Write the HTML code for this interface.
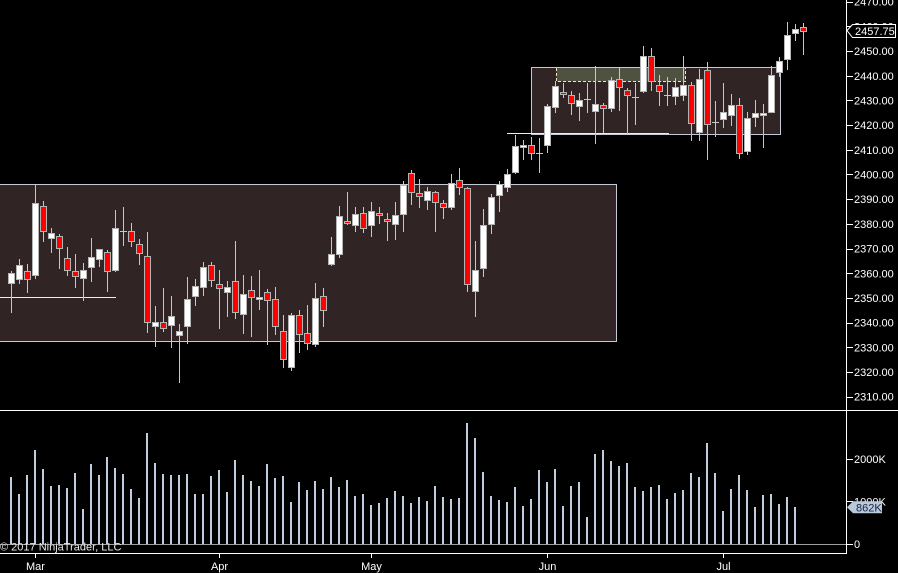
<!DOCTYPE html>
<html><head><meta charset="utf-8"><style>
html,body{margin:0;padding:0;background:#000;}
svg{display:block;}
text{font-family:"Liberation Sans",Arial,sans-serif;font-size:11px;fill:#fff;}
</style></head><body>
<svg id="c" width="898" height="573" viewBox="0 0 898 573" xmlns="http://www.w3.org/2000/svg" shape-rendering="crispEdges">
<rect x="0" y="0" width="898" height="573" fill="#000"/>
<!-- boxes -->
<rect x="-2" y="184.5" width="618.5" height="157" fill="#312424" stroke="#c3cad6" stroke-width="1"/>
<rect x="531.5" y="67.5" width="249" height="67" fill="#312424" stroke="#c3cad6" stroke-width="1"/>
<rect x="556.5" y="68" width="129" height="13.5" fill="#4f5241"/>
<path d="M556.5 68V81.5H685.5V68" fill="none" stroke="#f0e6c0" stroke-width="1" stroke-dasharray="3,2"/>
<line x1="0" y1="297.5" x2="116" y2="297.5" stroke="#f3eedc" stroke-width="1"/>
<line x1="507" y1="133.5" x2="669" y2="133.5" stroke="#f3eedc" stroke-width="1"/>
<g id="candles"></g>
<g id="vol"></g>
<!-- axes -->
<line x1="846.5" y1="0" x2="846.5" y2="553" stroke="#fff" stroke-width="1"/>
<line x1="0" y1="410.5" x2="898" y2="410.5" stroke="#fff" stroke-width="1"/>
<line x1="0" y1="553.5" x2="847" y2="553.5" stroke="#fff" stroke-width="1"/>
<line x1="0" y1="544.5" x2="846" y2="544.5" stroke="#a0a0a0" stroke-width="1"/>
<g id="ticks" stroke="#fff" stroke-width="1"></g>
<!-- price labels -->
<g>
<text x="854" y="5.7">2470.00</text>
<text x="854" y="30.4">2460.00</text>
<text x="854" y="55.1">2450.00</text>
<text x="854" y="79.8">2440.00</text>
<text x="854" y="104.5">2430.00</text>
<text x="854" y="129.2">2420.00</text>
<text x="854" y="153.9">2410.00</text>
<text x="854" y="178.5">2400.00</text>
<text x="854" y="203.2">2390.00</text>
<text x="854" y="227.9">2380.00</text>
<text x="854" y="252.6">2370.00</text>
<text x="854" y="277.3">2360.00</text>
<text x="854" y="302.0">2350.00</text>
<text x="854" y="326.7">2340.00</text>
<text x="854" y="351.3">2330.00</text>
<text x="854" y="376.0">2320.00</text>
<text x="854" y="400.7">2310.00</text>
<text x="854" y="463">2000K</text>
<text x="854" y="505.5">1000K</text>
<text x="854" y="548">0</text>
</g>
<!-- last price tag -->
<polygon points="847,30.5 852.5,24.5 895.5,24.5 895.5,37.5 852.5,37.5" fill="#000" stroke="#fff" stroke-width="1" shape-rendering="auto"/>
<text x="855" y="35">2457.75</text>
<polygon points="847,507.3 853,501.3 882,501.3 882,513.3 853,513.3" fill="#b9c9dc" shape-rendering="auto"/>
<text x="856" y="511.5" style="fill:#1a2040">862K</text>
<!-- x labels -->
<text x="35.5" y="570" text-anchor="middle">Mar</text>
<text x="219.5" y="570" text-anchor="middle">Apr</text>
<text x="371.5" y="570" text-anchor="middle">May</text>
<text x="547.5" y="570" text-anchor="middle">Jun</text>
<text x="723.5" y="570" text-anchor="middle">Jul</text>
<text x="0" y="550.5" style="fill:#e8e8e8">© 2017 NinjaTrader, LLC</text>
</svg>
<script>
(function(){
var NS="http://www.w3.org/2000/svg";
var C=[
[273.3,282.7,271,312.7,"W"],[265.3,279.3,259,283.7,"W"],[271.3,279.3,264,292.7,"R"],[203.3,275.3,184.7,278.7,"W"],
[206.3,231.3,201,241.7,"R"],[233.3,237.7,228,252.7,"W"],[236.3,247.7,234,268.7,"R"],[258.3,270.3,247,276,"R"],
[271.3,276.3,254,287.7,"R"],[270.3,278.3,263,300.7,"W"],[257.3,267.3,238,281.7,"W"],[249.3,259.3,249.3,266.7,"W"],
[252.3,271.3,250,291.7,"R"],[228.3,270.3,210,272,"W"],[231.3,231.3,207,245.7,"D"],[231.3,241.3,223,247.3,"R"],
[244.3,253.3,239,265.3,"R"],[256.3,322.3,232,333.3,"R"],[322.3,326.3,306,347.3,"W"],[322.3,328.3,288,332.3,"R"],
[316.3,325.3,296,348.3,"W"],[331.3,335.3,323.7,383.3,"W"],[299.3,326.3,277,344.3,"W"],[286.3,296.3,279,306.3,"W"],
[267.3,286.7,262,296,"W"],[265.3,280.3,262,287,"R"],[284.3,288.3,270,328.7,"R"],[287.3,292.3,281,316.7,"W"],
[281.3,312.3,241,318.7,"R"],[294.3,314.3,275,333.7,"W"],[290.3,297.3,276,336.7,"R"],[297.3,299.3,270,309.7,"W"],
[292.3,300.3,289,344.7,"R"],[299.3,326.3,287,334.7,"R"],[331.3,359.3,315,367.7,"R"],[315.3,367.3,313.3,370.7,"W"],
[315.3,334.3,310,352.7,"R"],[333.3,343.3,305,349.7,"R"],[298.3,344.3,283,346.7,"W"],[296.3,309.7,288,326.7,"R"],
[254.3,264.3,237,265.7,"W"],[216.3,254.3,206.3,258.3,"W"],[221.3,223.3,192.3,225.3,"R"],[214.3,225.3,207,232.3,"W"],
[213.3,228.3,207,233.3,"R"],[211.3,225.3,202.3,236.7,"W"],[213.3,215.3,207.3,224.3,"R"],[219.3,221.3,213.3,240.7,"R"],
[215.3,224.3,202,239.7,"W"],[185.3,214.3,181,231.7,"W"],[173.3,192.3,170.3,205.3,"R"],[193.3,196.3,179.3,207.7,"R"],
[191.3,200.3,187.3,210.3,"W"],[192.3,202.3,191.3,231.7,"R"],[203.3,207.3,200.3,218.7,"R"],[183.3,207.3,174.3,209.7,"W"],
[180.3,187.3,168.3,195.3,"R"],[188.3,284.3,187.3,291.7,"R"],[270.3,291.3,241.3,317.3,"W"],[225.3,268.3,209.3,276.7,"W"],
[197.3,224.3,194.3,233.7,"W"],[184.3,195.3,181.3,212.3,"W"],[174.3,187.3,169.3,192.3,"W"],[146.3,172.3,135.3,174.3,"W"],
[145.3,147.3,140.3,160.3,"W"],[145.3,153.3,137.3,160.3,"R"],[152.7,152.7,138,173.3,"D"],[106.3,145.3,104.3,153.3,"W"],
[86.3,107.3,81.3,113.3,"W"],[92.3,94.3,83.3,98.3,"R"],[95.3,103.3,91.3,114.7,"R"],[100.3,106.3,93.3,120.7,"W"],
[99.3,99.3,83.3,112.7,"D"],[104.3,111.3,66.3,143.7,"W"],[105.3,108.3,103.3,133.3,"R"],[80.3,108.3,77.3,111.7,"W"],
[79.3,87.3,68.3,110.7,"R"],[90.3,95.3,88.3,133.7,"R"],[96.7,96.7,83.3,124.7,"D"],[56.3,91.3,46.3,93.3,"W"],
[56.3,81.3,48.3,90.7,"R"],[85.3,91.3,75.3,105.7,"R"],[95.3,95.3,77.3,105.7,"D"],[87.3,96.3,78.3,104.7,"W"],
[85.3,95.3,56,100.7,"W"],[85.3,123.3,82.3,140.7,"R"],[79.3,132.3,69.3,140.7,"W"],[70.3,124.3,61.7,160,"R"],
[122.3,122.3,100.7,137.3,"D"],[112.3,119.3,83.3,128.3,"W"],[105.3,115.3,94,126.3,"W"],[105.3,153.3,98.3,158.7,"R"],
[118.3,151.3,112.3,155.3,"W"],[113.3,117.3,100.3,127.3,"W"],[113.3,115.3,104,148.3,"W"],[75.3,112.3,66,113.3,"W"],
[61.3,72.3,57.3,77.3,"W"],[35.3,59.3,22.3,70.3,"W"],[29.3,33.3,24.3,41,"W"],[27.3,31.3,23.3,55.3,"R"]];
var V=[186,237,180,105,162,213,210,219,174,282,147,180,126,159,177,222,249,54,144,177,180,180,177,237,237,183,165,231,135,180,198,213,147,189,183,261,201,225,198,222,186,216,195,243,237,270,264,249,228,243,264,
246,258,213,246,252,249,24,69,171,243,255,261,216,273,252,165,201,162,273,213,201,306,117,105,138,153,144,216,228,216,210,252,234,225,174,186,84,174,288,222,180,225,276,240,237,267,246,276];
function r(p,x,y,w,h,f){var e=document.createElementNS(NS,"rect");e.setAttribute("x",x);e.setAttribute("y",y);e.setAttribute("width",w);e.setAttribute("height",Math.max(h,0));e.setAttribute("fill",f);p.appendChild(e);}
var g=document.getElementById("candles");
for(var k=0;k<C.length;k++){
 var c=C[k],bx=8+8*k;
 var wt=Math.round(c[2]),wb=Math.round(c[3]);
 r(g,bx+3,wt,1,wb-wt,"#c8c8c8");
 var t=Math.round(c[0]),b=Math.round(c[1]);
 if(c[4]=="D"){r(g,bx,t,7,1,"#c8c8c8");continue;}
 if(b-t<2)b=t+2;
 r(g,bx,t,7,b-t+1,"#b4b4b4");
 r(g,bx+1,t+1,5,b-t-1,c[4]=="R"?"#ff0000":"#ffffff");
}
var v=document.getElementById("vol");
for(var i=0;i<V.length;i++){var top=Math.round(415+V[i]/3);r(v,10+8*i,top,2,544-top,"#c0cee0");}
var tk=document.getElementById("ticks");
function ln(x1,y1,x2,y2){var e=document.createElementNS(NS,"line");e.setAttribute("x1",x1);e.setAttribute("y1",y1);e.setAttribute("x2",x2);e.setAttribute("y2",y2);tk.appendChild(e);}
for(var p=0;p<=16;p++){var y=Math.round(1.66+p*24.69)+0.5;ln(846,y,853,y);}
[459.5,501.5,544.5].forEach(function(y){ln(846,y,853,y);});
[35.5,219.5,371.5,547.5,723.5].forEach(function(x){ln(x,553,x,558);});
})();
</script>
</body></html>
